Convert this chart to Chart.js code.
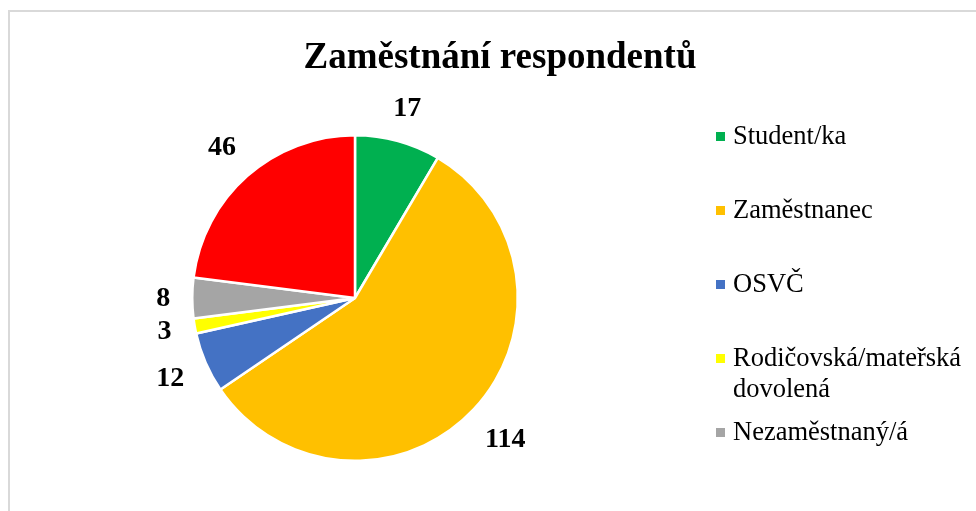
<!DOCTYPE html>
<html>
<head>
<meta charset="utf-8">
<script src="https://cdn.jsdelivr.net/npm/chart.js@4.4.1/dist/chart.umd.min.js"></script>
<style>
  html, body { margin: 0; padding: 0; background: #fff; overflow: hidden; }
  #frame { position: absolute; left: 8px; top: 10px; width: 1000px; height: 600px;
           border-left: 2px solid #d9d9d9; border-top: 2px solid #d9d9d9; }
  #wrap { position: absolute; left: 0; top: 0; width: 976px; height: 511px; }
</style>
</head>
<body>
<div id="frame"></div>
<div id="wrap"><canvas id="chart"></canvas></div>
<script>
const titleText = "Zaměstnání respondentů";
const categories = ["Student/ka", "Zaměstnanec", "OSVČ", "Rodičovská/mateřská dovolená", "Nezaměstnaný/á", "Jiné"];
const counts = [17, 114, 12, 3, 8, 46];
const sliceColors = ["#00b050", "#ffc000", "#4472c4", "#ffff00", "#a5a5a5", "#ff0000"];

const SERIF = '"Liberation Serif", "Times New Roman", serif';

function wrapWords(ctx, text, maxWidth) {
  const words = text.split(" ");
  const lines = [];
  let line = "";
  words.forEach(w => {
    const test = line ? line + " " + w : w;
    if (line && ctx.measureText(test).width > maxWidth) {
      lines.push(line);
      line = w;
    } else {
      line = test;
    }
  });
  if (line) lines.push(line);
  return lines;
}

// title + legend on the right, drawn like the Excel original
const titleLegendPlugin = {
  id: "titleLegend",
  afterDraw(chart) {
    const ctx = chart.ctx;
    ctx.save();
    ctx.fillStyle = "#000";
    ctx.font = `bold 37px ${SERIF}`;
    ctx.textAlign = "center";
    ctx.textBaseline = "alphabetic";
    ctx.fillText(titleText, 500, 68);

    ctx.font = `26.5px ${SERIF}`;
    ctx.textAlign = "left";
    let baseline = 144;
    const colors = chart.data.datasets[0].backgroundColor;
    chart.data.labels.forEach((label, i) => {
      if (baseline > chart.height - 40) return;
      ctx.fillStyle = colors[i];
      ctx.fillRect(716, baseline - 12, 9, 9);
      ctx.fillStyle = "#000";
      const lines = wrapWords(ctx, label, 240);
      lines.forEach((ln, j) => ctx.fillText(ln, 733, baseline + j * 31));
      baseline += 74;
    });
    ctx.restore();
  }
};

// value labels just outside each slice
const valueLabelPlugin = {
  id: "valueLabels",
  afterDatasetsDraw(chart) {
    const ctx = chart.ctx;
    const meta = chart.getDatasetMeta(0);
    const values = chart.data.datasets[0].data;
    ctx.save();
    ctx.font = `bold 28px ${SERIF}`;
    ctx.fillStyle = "#000";
    ctx.textAlign = "center";
    ctx.textBaseline = "middle";
    meta.data.forEach((arc, i) => {
      const p = arc.getProps(["x", "y", "startAngle", "endAngle", "outerRadius"], true);
      const mid = (p.startAngle + p.endAngle) / 2;
      const ux = Math.cos(mid), uy = Math.sin(mid);
      const txt = String(values[i]);
      const w = ctx.measureText(txt).width;
      const d = p.outerRadius + 22 + Math.abs(ux) * w / 2 + Math.abs(uy) * 9.5;
      ctx.fillText(txt, p.x + ux * d, p.y + uy * d + 1);
    });
    ctx.restore();
  }
};

new Chart(document.getElementById("chart"), {
  type: "pie",
  data: {
    labels: categories,
    datasets: [{
      data: counts,
      backgroundColor: sliceColors,
      borderColor: "#ffffff",
      borderWidth: 2.5
    }]
  },
  options: {
    responsive: true,
    maintainAspectRatio: false,
    animation: false,
    layout: { padding: { left: 191, top: 134, right: 457, bottom: 49 } },
    plugins: {
      legend: { display: false },
      title: { display: false },
      tooltip: { enabled: false }
    }
  },
  plugins: [titleLegendPlugin, valueLabelPlugin]
});
</script>
</body>
</html>
